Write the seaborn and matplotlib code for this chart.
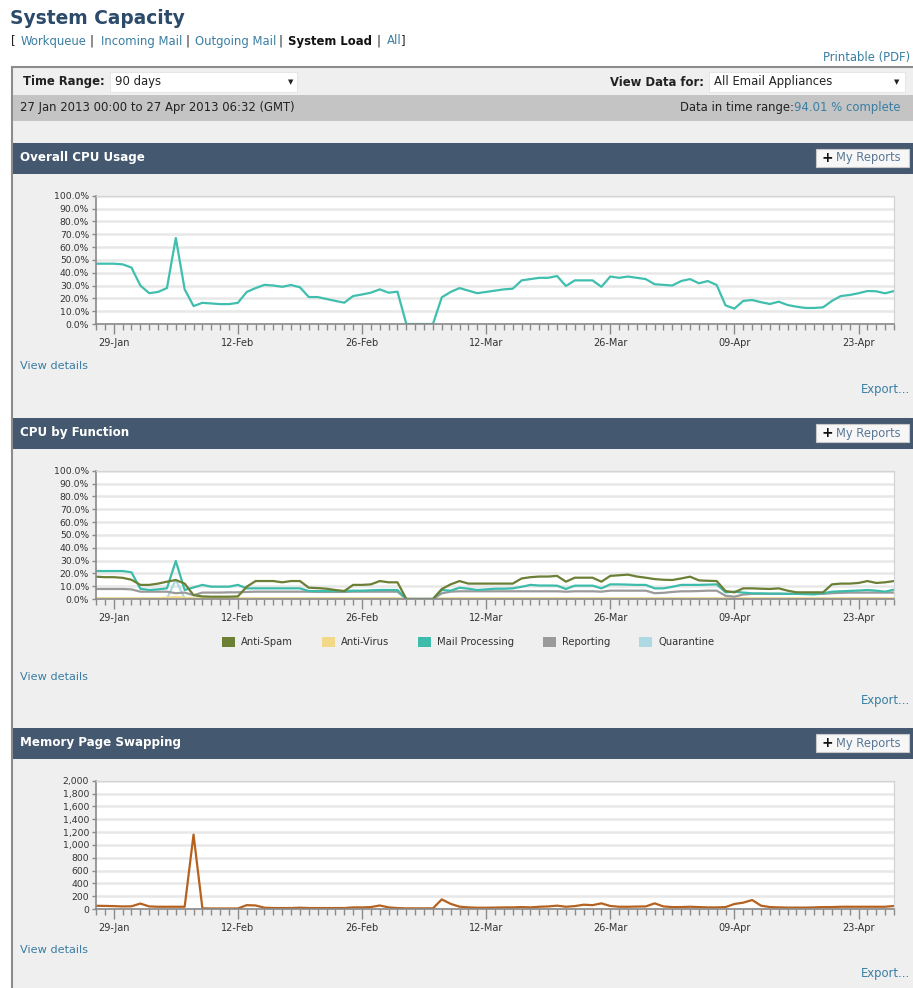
import numpy as np
import pandas as pd
import matplotlib
matplotlib.use("Agg")
import matplotlib.pyplot as plt
import matplotlib.dates as mdates
from matplotlib.patches import Rectangle, Patch
from matplotlib.ticker import FuncFormatter, MultipleLocator
import seaborn as sns

W, H = 913, 988

# ---- data (one value per day) ----
dates = pd.date_range("2013-01-27", periods=91, freq="D")
major_dates = pd.to_datetime(["2013-01-29", "2013-02-12", "2013-02-26", "2013-03-12",
                              "2013-03-26", "2013-04-09", "2013-04-23"])

cpu_overall = [47, 47, 47, 46.5, 44, 30, 24, 25, 28, 67, 27, 14, 16.5, 16, 15.5, 15.5, 16.5, 25, 28, 30.5,
               30, 29, 30.4, 28.6, 21, 21, 19.5, 18, 16.6, 21.8, 23, 24.4, 27, 24.4, 25.2, 0, 0, 0, 0, 20.8,
               25, 28, 26, 24, 25, 26, 27, 27.5, 34, 35, 36, 36, 37.4, 29.6, 34, 34, 34, 29, 37, 36,
               37, 36, 35, 31, 30.5, 30, 33.5, 35, 31.7, 33.5, 30.4, 14.5, 12, 18, 18.7, 17, 15.6, 17.4, 14.8, 13.5,
               12.5, 12.5, 13, 18, 21.8, 22.6, 24, 25.7, 25.5, 23.9, 25.7]

anti_spam = [17.4, 17, 17, 16.5, 15, 11, 11, 12, 13.5, 14.8, 12, 3, 2, 1.8, 1.8, 1.8, 2, 9.6, 14, 14,
             14, 13, 14, 14, 8.8, 8.5, 8, 7, 6.2, 11, 11, 11.4, 14, 13, 13, 0, 0, 0, 0, 7.8,
             11.4, 14, 12, 12, 12, 12, 12, 12, 16, 17, 17.5, 17.5, 18, 13.5, 16.6, 16.6, 16.6, 13.5, 18, 18.5,
             19, 17.5, 16.6, 15.5, 15, 14.8, 16, 17.4, 14.5, 14.2, 14, 6.2, 5.2, 8.3, 8.3, 8, 7.8, 8.3, 6.5, 5.2,
             5.2, 5.2, 5.2, 11.4, 12, 12, 12.5, 14, 12.5, 13, 14]

anti_virus = [0.5] * 8 + [1, 1.5, 1] + [0.5] * 24 + [0, 0, 0, 0] + [0.5] * 52

mail_processing = [21.8, 21.8, 21.8, 21.8, 20.8, 8, 7, 7.5, 8.3, 29.6, 7, 9, 11, 9.6, 9.6, 9.6, 11, 8.3, 8.3, 8.3,
                   8.3, 8.3, 8.3, 8.3, 6.2, 6.2, 6.2, 6.2, 6.2, 6.5, 6.5, 6.8, 7, 7, 7, 0, 0, 0, 0, 7,
                   6.5, 8.8, 8, 7, 7.5, 8, 8, 8.3, 9.5, 11, 10.5, 10.5, 10.4, 7.8, 10.4, 10.4, 10.4, 8.3, 11.4, 11.4,
                   11.2, 11, 11, 8.3, 8.3, 9.5, 11, 11, 11, 11.2, 11.4, 5.2, 5.7, 5, 4.4, 4.4, 4.2, 4.2, 4, 4,
                   3.8, 3.6, 4.5, 5.7, 6, 6.3, 6.6, 7, 6.5, 5.7, 7.3]

reporting = [7.8, 7.8, 7.8, 7.8, 7.5, 5.7, 5.7, 5.7, 5.7, 4.5, 5, 3, 5, 5, 5, 5.2, 5.2, 5.5, 5.7, 5.7,
             5.7, 5.7, 5.7, 5.7, 5.7, 5.5, 5.5, 5.5, 5.5, 5.7, 5.7, 5.7, 5.7, 5.7, 5.7, 0, 0, 0, 0, 4.4,
             5.7, 6, 6, 6, 6, 6, 6, 6, 6, 6, 6, 6, 6, 5.7, 6, 6, 6, 5.7, 6.5, 6.5,
             6.5, 6.5, 6.5, 4.5, 4.8, 5.5, 6, 6, 6.2, 6.5, 6.5, 2.5, 1.8, 3.5, 4, 4, 4, 4, 4, 4,
             4, 4, 4, 4.5, 4.8, 5, 5, 5, 5, 5, 5]

quarantine = [0.3] * 9 + [15] + [0.3] * 25 + [0, 0, 0, 0] + [0.3] * 52

page_swapping = [50, 48, 45, 40, 42, 85, 40, 35, 35, 35, 35, 1160, 10, 8, 8, 8, 8, 60, 55, 20,
                 15, 15, 15, 20, 15, 15, 15, 15, 15, 25, 25, 30, 55, 25, 15, 10, 10, 10, 10, 150,
                 80, 36, 25, 20, 20, 22, 25, 25, 30, 25, 35, 40, 52, 35, 45, 67, 60, 88, 47, 35,
                 35, 38, 40, 88, 40, 30, 30, 35, 30, 25, 25, 30, 78, 99, 140, 52, 30, 25, 22, 22,
                 22, 25, 30, 30, 35, 35, 35, 35, 35, 35, 47]

function_names = ["Anti-Spam", "Anti-Virus", "Mail Processing", "Reporting", "Quarantine"]
function_colors = ["#6b7f35", "#f2d98a", "#3dbcab", "#9a9a9a", "#aed8e2"]

LINK = "#3a7ea3"
HEAD = "#44586f"
PANEL = "#efefef"
UI = 8.4  # body text size of the report page

sns.set_style("white")
plt.rcParams["font.family"] = ["DejaVu Sans"]

fig = plt.figure(figsize=(W / 100, H / 100), dpi=100)
fig.patch.set_facecolor("white")


def box(x, y, w, h, color, ec="none", lw=0, z=0):
    fig.patches.append(Rectangle((x / W, 1 - (y + h) / H), w / W, h / H, transform=fig.transFigure,
                                 facecolor=color, edgecolor=ec, linewidth=lw, zorder=z))


def txt(x, y, s, size=UI, color="#222222", weight="normal", ha="left", **kw):
    fig.text(x / W, 1 - y / H, s, fontsize=size, color=color, fontweight=weight,
             ha=ha, va="center", zorder=3, **kw)


# ---- page header ----
txt(10, 18, "System Capacity", size=13.4, color="#2c4a69", weight="bold")
links = [(11, "[", "#222222", "normal"), (21, "Workqueue", LINK, "normal"), (89, "|", "#222222", "normal"),
         (101, "Incoming Mail", LINK, "normal"), (185, "|", "#222222", "normal"),
         (195, "Outgoing Mail", LINK, "normal"), (278, "|", "#222222", "normal"),
         (288, "System Load", "#111111", "bold"), (377, "|", "#222222", "normal"),
         (387, "All", LINK, "normal"), (401, "]", "#222222", "normal")]
for lx, s, c, wt in links:
    txt(lx, 41, s, size=UI, color=c, weight=wt)
txt(910, 57, "Printable (PDF)", size=UI, color=LINK, ha="right")

# ---- report panel ----
box(12, 67, 930, 940, PANEL, ec="#8c8c8c", lw=1.5)
txt(23, 82, "Time Range:", weight="bold")
box(110, 72, 187, 20, "white", ec="#e0e0e0", lw=0.5, z=1)
txt(115, 82, "90 days")
txt(288, 82, "\u25bc", size=5)
txt(704, 82, "View Data for:", weight="bold", ha="right")
box(709, 72, 196, 20, "white", ec="#e0e0e0", lw=0.5, z=1)
txt(714, 82, "All Email Appliances")
txt(894, 82, "\u25bc", size=5)
box(13, 95, 900, 26, "#c4c4c4", z=1)
txt(20, 107, "27 Jan 2013 00:00 to 27 Apr 2013 06:32 (GMT)")
txt(794, 107, "Data in time range:", ha="right")
txt(794, 107, "94.01 % complete", color=LINK)


def section(top, title, view_y, export_y):
    box(13, top, 900, 31, HEAD, z=1)
    txt(20, top + 14, title, size=8.6, color="white", weight="bold")
    box(816, top + 6, 93, 18, "#f7f7f7", ec="#c8c8c8", lw=0.8, z=2)
    txt(821, top + 15, "+", size=10, weight="bold", color="#111111")
    txt(836, top + 15, "My Reports", size=8.3, color="#5a7896")
    txt(20, view_y, "View details", size=8.1, color=LINK)
    txt(910, export_y, "Export...", size=UI, color=LINK, ha="right")


section(143, "Overall CPU Usage", 366, 390)
section(418, "CPU by Function", 677, 700)
section(728, "Memory Page Swapping", 950, 973)


def make_ax(top, bottom):
    ax = fig.add_axes([96 / W, 1 - bottom / H, (894 - 96) / W, (bottom - top) / H])
    ax.set_zorder(5)
    ax.set_facecolor("white")
    ax.set_axisbelow(True)
    ax.yaxis.grid(True, color="#e8e8e8", lw=1.8)
    ax.xaxis.grid(False)
    for side in ["left", "bottom"]:
        ax.spines[side].set_color("#8a8a8a")
        ax.spines[side].set_linewidth(1.2)
    for side in ["top", "right"]:
        ax.spines[side].set_color("#d4d4d4")
        ax.spines[side].set_linewidth(0.9)
    return ax


def finish_ax(ax, ymax, ystep, yfmt):
    ax.set_xlabel("")
    ax.set_ylabel("")
    ax.set_xlim(dates[0], dates[-1])
    ax.set_ylim(0, ymax)
    ax.yaxis.set_major_locator(MultipleLocator(ystep))
    ax.yaxis.set_major_formatter(yfmt)
    ax.set_xticks(major_dates)
    ax.xaxis.set_major_formatter(mdates.DateFormatter("%d-%b"))
    ax.xaxis.set_minor_locator(mdates.DayLocator())
    ax.tick_params(axis="x", which="major", direction="out", length=7, width=1, color="#8a8a8a",
                   labelsize=7, labelcolor="#333333", pad=3, bottom=True)
    ax.tick_params(axis="x", which="minor", direction="out", length=4, width=1, color="#8a8a8a", bottom=True)
    ax.tick_params(axis="y", which="major", direction="out", length=3, width=1, color="#8a8a8a",
                   labelsize=6.7, labelcolor="#333333", pad=2, left=True)


pct = FuncFormatter(lambda v, p: f"{v:.1f}%")

# ---- Overall CPU usage ----
ax1 = make_ax(195.7, 324)
df1 = pd.DataFrame({"date": dates, "cpu": cpu_overall})
sns.lineplot(data=df1, x="date", y="cpu", ax=ax1, color="#40bfae", lw=1.6)
finish_ax(ax1, 100, 10, pct)

# ---- CPU by function ----
ax2 = make_ax(470.7, 599)
df2 = pd.DataFrame({"date": dates, "Anti-Spam": anti_spam, "Anti-Virus": anti_virus,
                    "Mail Processing": mail_processing, "Reporting": reporting,
                    "Quarantine": quarantine})
df2 = df2.melt(id_vars="date", var_name="function", value_name="cpu")
draw_order = ["Quarantine", "Anti-Virus", "Reporting", "Mail Processing", "Anti-Spam"]
pal = dict(zip(function_names, function_colors))
sns.lineplot(data=df2, x="date", y="cpu", hue="function", hue_order=draw_order, palette=pal,
             ax=ax2, lw=1.6, legend=False)
finish_ax(ax2, 100, 10, pct)

handles = [Patch(facecolor=c, edgecolor="none", label=n) for n, c in zip(function_names, function_colors)]
fig.legend(handles=handles, loc="center", bbox_to_anchor=(468 / W, 1 - 642 / H), ncol=5, frameon=False,
           fontsize=7.2, handlelength=1.3, handleheight=1.3, handletextpad=0.6, columnspacing=2.9,
           labelcolor="#333333")

# ---- Memory page swapping ----
ax3 = make_ax(780.7, 909)
df3 = pd.DataFrame({"date": dates, "pages": page_swapping})
sns.lineplot(data=df3, x="date", y="pages", ax=ax3, color="#b5611f", lw=1.6)
finish_ax(ax3, 2000, 200, FuncFormatter(lambda v, p: f"{int(v):,}"))

fig.savefig("out.png", dpi=100, facecolor=fig.get_facecolor())
